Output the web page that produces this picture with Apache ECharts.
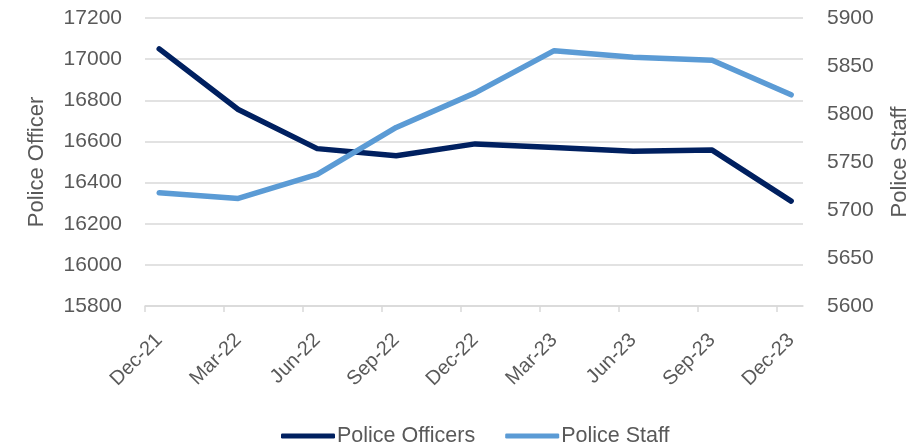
<!DOCTYPE html>
<html>
<head>
<meta charset="utf-8">
<script src="https://cdn.jsdelivr.net/npm/echarts@6/dist/echarts.min.js"></script>
<style>
html,body{margin:0;padding:0;background:#fff;}
#chart{width:923px;height:445px;}
</style>
</head>
<body>
<div id="chart"></div>
<script>
const categories = ['Dec-21','Mar-22','Jun-22','Sep-22','Dec-22','Mar-23','Jun-23','Sep-23','Dec-23'];
const policeOfficers = [17050, 16755, 16565, 16530, 16588, 16570, 16552, 16558, 16310];
const policeStaff = [5718, 5712, 5737, 5786, 5822, 5866, 5859, 5856, 5820];
const leftTicks = {min: 15800, max: 17200, interval: 200};
const rightTicks = {min: 5600, max: 5900, interval: 50};

const OFFSET = 0.18; // ticks sit slightly before each data point (date axis look)
const tickPos = categories.map((c, i) => i - OFFSET);
const labelPos = categories.map((c, i) => i);
const FONT = 'Liberation Sans';
const TXT = '#595959';
const GRID = '#D9D9D9';

const chart = echarts.init(document.getElementById('chart'), null, {renderer: 'canvas'});
chart.setOption({
  animation: false,
  backgroundColor: '#ffffff',
  textStyle: {fontFamily: FONT},
  grid: {left: 145, right: 120, top: 18, bottom: 139, containLabel: false},
  legend: {
    left: 276, top: 420,
    itemWidth: 54, itemHeight: 5, itemGap: 30,
    icon: 'roundRect',
    textStyle: {fontFamily: FONT, fontSize: 21.5, color: TXT, padding: [0,0,0,-3]},
    data: ['Police Officers', 'Police Staff']
  },
  xAxis: {
    type: 'value',
    min: -OFFSET, max: 8.15,
    axisLine: {show: true, lineStyle: {color: GRID, width: 1.5}},
    axisTick: {show: true, length: 6, lineStyle: {color: GRID, width: 1.5}, customValues: tickPos},
    axisLabel: {
      customValues: labelPos,
      rotate: 45, margin: 31,
      fontFamily: FONT, fontSize: 20, color: TXT,
      formatter: v => categories[Math.round(v)] || ''
    },
    splitLine: {show: false}
  },
  yAxis: [
    {
      type: 'value', position: 'left',
      min: leftTicks.min, max: leftTicks.max, interval: leftTicks.interval,
      name: 'Police Officer', nameLocation: 'middle', nameGap: 97, nameRotate: 90,
      nameTextStyle: {fontFamily: FONT, fontSize: 22, color: TXT},
      axisLine: {show: false}, axisTick: {show: false},
      axisLabel: {fontFamily: FONT, fontSize: 21, color: TXT, margin: 23, formatter: v => String(v)},
      splitLine: {show: true, lineStyle: {color: GRID, width: 1.5}}
    },
    {
      type: 'value', position: 'right',
      min: rightTicks.min, max: rightTicks.max, interval: rightTicks.interval,
      name: 'Police Staff', nameLocation: 'middle', nameGap: 86, nameRotate: 90,
      nameTextStyle: {fontFamily: FONT, fontSize: 22, color: TXT},
      axisLine: {show: false}, axisTick: {show: false},
      axisLabel: {fontFamily: FONT, fontSize: 21, color: TXT, margin: 24, formatter: v => String(v)},
      splitLine: {show: false}
    }
  ],
  series: [
    {
      name: 'Police Officers', type: 'line', yAxisIndex: 0,
      data: policeOfficers.map((v, i) => [i, v]),
      showSymbol: false, symbol: 'none',
      color: '#002060',
      lineStyle: {color: '#002060', width: 5.5, cap: 'round', join: 'round'}
    },
    {
      name: 'Police Staff', type: 'line', yAxisIndex: 1,
      data: policeStaff.map((v, i) => [i, v]),
      showSymbol: false, symbol: 'none',
      color: '#5B9BD5',
      lineStyle: {color: '#5B9BD5', width: 5.5, cap: 'round', join: 'round'}
    }
  ]
});
</script>
</body>
</html>
